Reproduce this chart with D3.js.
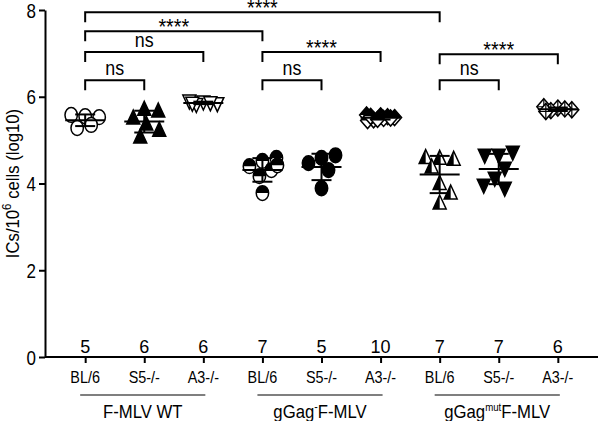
<!DOCTYPE html>
<html>
<head>
<meta charset="utf-8">
<script src="https://cdn.jsdelivr.net/npm/d3@7"></script>
<style>
	body { margin: 0; background: #fff; }
	text { font-family: "Liberation Sans", Arial, sans-serif; fill: #000; }
</style>
</head>
<body>
<div id="chart"></div>
<script>
// Categories (one per column) and the virus group each belongs to
var categories = ["BL/6", "S5-/-", "A3-/-", "BL/6", "S5-/-", "A3-/-", "BL/6", "S5-/-", "A3-/-"];
var groupNames = ["F-MLV WT", "gGag-F-MLV", "gGagmut F-MLV"];
var markers    = ["openCircle", "triUp", "openTriDown", "halfCircle", "circle", "halfDiamond", "halfTriUp", "triDown", "crossDiamond"];

// ICs / 10^6 cells (log10), one array per column
var wtBL6   = [5.55, 5.53, 5.58, 5.28, 5.35];
var wtS5    = [5.71, 5.67, 5.51, 5.37, 5.23, 5.07];
var wtA3    = [5.88, 5.84, 5.90, 5.82, 5.86, 5.85];
var gagBL6  = [4.52, 4.59, 4.40, 4.31, 4.42, 4.17, 3.78];
var gagS5   = [4.59, 4.65, 4.47, 4.31, 3.89];
var gagA3   = [5.56, 5.52, 5.58, 5.47, 5.54, 5.45, 5.50, 5.55, 5.48, 5.51];
var mutBL6  = [4.58, 4.56, 4.60, 4.38, 4.00, 3.78, 3.55];
var mutS5   = [4.65, 4.72, 4.65, 4.35, 4.12, 3.89, 3.96];
var mutA3   = [5.74, 5.70, 5.77, 5.68, 5.72, 5.66];
var series  = [wtBL6, wtS5, wtA3, gagBL6, gagS5, gagA3, mutBL6, mutS5, mutA3];

var yTicks = [0, 2, 4, 6, 8];

// Comparisons: [from column, to column, label, bracket height (log10)]
var comparisons = [
	[0, 6, "****", 7.95],
	[0, 3, "****", 7.51],
	[0, 2, "ns",   7.03],
	[0, 1, "ns",   6.38],
	[3, 5, "****", 7.03],
	[3, 4, "ns",   6.38],
	[6, 8, "****", 6.98],
	[6, 7, "ns",   6.38]
];

var width = 600, height = 421;

var svg = d3.select("#chart").append("svg")
	.attr("width", width)
	.attr("height", height);

var x = d3.scalePoint()
	.domain(d3.range(categories.length))
	.range([45, 598])
	.padding(0.68);

var y = d3.scaleLinear()
	.domain([0, 8])
	.range([357, 10]);

// The original figure's lettering is narrow and tall: squeeze text horizontally
// around its own anchor x
function condense(sel, sx) {
	sel.each(function () {
		var t = d3.select(this);
		var x0 = +t.attr("x") || 0;
		t.attr("transform", "translate(" + (x0 * (1 - sx)) + ",0) scale(" + sx + ",1)");
	});
}

// Y axis
var yAxis = svg.append("g")
	.attr("transform", "translate(45,0)")
	.call(d3.axisLeft(y).tickValues(yTicks).tickSize(6).tickSizeOuter(0).tickPadding(3));
yAxis.selectAll("text").style("font-size", "20px").attr("dy", "0.36em");
condense(yAxis.selectAll("text"), 0.85);
yAxis.selectAll("line, path").attr("stroke", "#000").attr("stroke-width", 2);

svg.append("text")
	.attr("transform", "translate(19," + y(4) + ") rotate(-90) scale(0.88,1)")
	.attr("text-anchor", "middle")
	.style("font-size", "19px")
	.html("ICs/10<tspan dy='-8' font-size='13px'>6</tspan><tspan dy='8'> cells (log10)</tspan>");

// X axis
var xAxis = svg.append("g")
	.attr("transform", "translate(0," + y(0) + ")")
	.call(d3.axisBottom(x).tickSize(6).tickSizeOuter(0).tickFormat(""));
xAxis.select(".domain").attr("d", "M45,0H598");
xAxis.selectAll("line, path").attr("stroke", "#000").attr("stroke-width", 2);

var catLabels = svg.append("g").selectAll("text")
	.data(categories)
	.join("text")
	.attr("x", function (d, i) { return x(i); })
	.attr("y", 383)
	.attr("text-anchor", "middle")
	.style("font-size", "16px")
	.text(function (d) { return d; });
condense(catLabels, 0.9);

// n per column
svg.append("g").selectAll("text")
	.data(series)
	.join("text")
	.attr("x", function (d, i) { return x(i); })
	.attr("y", 353)
	.attr("text-anchor", "middle")
	.style("font-size", "18px")
	.text(function (d) { return d.length; });

// Group underlines and names
groupNames.forEach(function (name, g) {
	var x0 = x(g * 3) - 5, x1 = x(g * 3 + 2) + 2;
	svg.append("line")
		.attr("x1", x0).attr("x2", x1)
		.attr("y1", 395).attr("y2", 395)
		.attr("stroke", "#000").attr("stroke-width", 1.2);
	var t = svg.append("text")
		.attr("x", (x0 + x1) / 2)
		.attr("y", 418)
		.attr("text-anchor", "middle")
		.style("font-size", "19px");
	if (g === 0) t.text(name);
	if (g === 1) t.html("gGag<tspan dy='-7' font-size='12px'>-</tspan><tspan dy='7'>F-MLV</tspan>");
	if (g === 2) t.html("gGag<tspan dy='-7' font-size='11px'>mut</tspan><tspan dy='7'>F-MLV</tspan>");
	condense(t, 0.88);
});

// Significance brackets
var brackets = svg.append("g");
comparisons.forEach(function (c) {
	var x0 = x(c[0]), x1 = x(c[1]), yy = y(c[3]);
	var isNs = c[2] === "ns";
	brackets.append("path")
		.attr("d", "M" + x0 + "," + (yy + 10) + "V" + yy + "H" + x1 + "V" + (yy + 10))
		.attr("fill", "none")
		.attr("stroke", "#000")
		.attr("stroke-width", 2);
	var t = brackets.append("text")
		.attr("x", (x0 + x1) / 2)
		.attr("y", isNs ? yy - 5 : yy + 3)
		.attr("text-anchor", "middle")
		.style("font-size", isNs ? "21px" : "22px")
		.text(c[2]);
	condense(t, isNs ? 0.85 : 0.9);
});

// Beeswarm-ish spread: nudge points sideways within a capped width,
// and let them overlap when the column gets crowded
function swarm(values, cx) {
	var placed = [];
	var minD = 14, maxOff = 15;
	return values.map(function (v) {
		var py = y(v), best = null, bestScore = -1;
		for (var k = 0; k <= maxOff * 2; k++) {
			var off = (k % 2 === 1 ? 1 : -1) * Math.ceil(k / 2);
			var d = placed.reduce(function (m, p) {
				var dx = p.x - (cx + off), dy = p.y - py;
				return Math.min(m, Math.sqrt(dx * dx + dy * dy));
			}, Infinity);
			if (d >= minD) { best = off; break; }
			if (d > bestScore) { bestScore = d; best = off; }
		}
		var pt = { x: cx + best, y: py };
		placed.push(pt);
		return pt;
	});
}

function drawMarker(g, type) {
	var s = "#000";
	if (type === "openCircle" || type === "circle") {
		g.append("ellipse").attr("rx", 6.2).attr("ry", 7.4)
			.attr("fill", type === "circle" ? "#000" : "#fff").attr("stroke", s).attr("stroke-width", 1.5);
	} else if (type === "halfCircle") {
		g.append("ellipse").attr("rx", 6.2).attr("ry", 7.4).attr("fill", "#fff").attr("stroke", s).attr("stroke-width", 1.5);
		g.append("path").attr("d", "M-6.2,0A6.2,7.4 0 0 1 6.2,0Z").attr("fill", "#000");
	} else if (type === "triUp" || type === "halfTriUp") {
		g.append("path").attr("d", "M0,-8L6.5,6L-6.5,6Z")
			.attr("fill", type === "triUp" ? "#000" : "#fff").attr("stroke", s).attr("stroke-width", 1.5);
		if (type === "halfTriUp") g.append("path").attr("d", "M0,-8L0,6L-6.5,6Z").attr("fill", "#000");
	} else if (type === "triDown" || type === "openTriDown") {
		g.append("path").attr("d", "M0,8L6.5,-6L-6.5,-6Z")
			.attr("fill", type === "triDown" ? "#000" : "#fff").attr("stroke", s).attr("stroke-width", 1.5);
	} else if (type === "halfDiamond" || type === "crossDiamond") {
		g.append("path").attr("d", "M0,-8L7,0L0,8L-7,0Z").attr("fill", "#fff").attr("stroke", s).attr("stroke-width", 1.5);
		if (type === "halfDiamond") {
			g.append("path").attr("d", "M0,-8L7,0L-7,0Z").attr("fill", "#000");
		} else {
			g.append("path").attr("d", "M0,-8V8M-7,0H7").attr("stroke", s).attr("stroke-width", 1.2);
		}
	}
}

// Points
series.forEach(function (vals, i) {
	var pts = swarm(vals, x(i));
	var col = svg.append("g");
	pts.forEach(function (p) {
		var g = col.append("g").attr("transform", "translate(" + p.x + "," + p.y + ")");
		drawMarker(g, markers[i]);
	});
});

// Mean +/- SD
series.forEach(function (vals, i) {
	var m = d3.mean(vals), sd = d3.deviation(vals), cx = x(i);
	var g = svg.append("g").attr("stroke", "#000").attr("stroke-width", 2);
	g.append("line").attr("x1", cx - 20).attr("x2", cx + 20).attr("y1", y(m)).attr("y2", y(m));
	g.append("line").attr("x1", cx).attr("x2", cx).attr("y1", y(m + sd)).attr("y2", y(m - sd));
	g.append("line").attr("x1", cx - 10).attr("x2", cx + 10).attr("y1", y(m + sd)).attr("y2", y(m + sd));
	g.append("line").attr("x1", cx - 10).attr("x2", cx + 10).attr("y1", y(m - sd)).attr("y2", y(m - sd));
});
</script>
</body>
</html>
